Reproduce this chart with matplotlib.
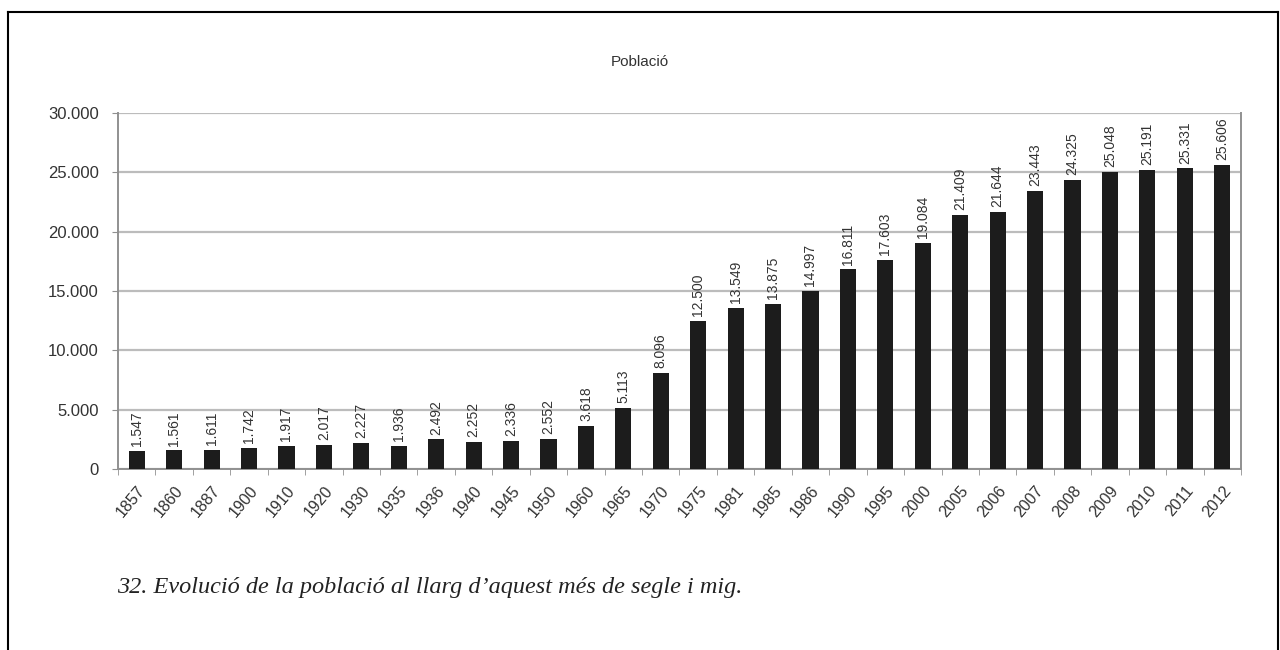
"""Població bar chart."""

import matplotlib

matplotlib.use("Agg")
import matplotlib.pyplot as plt
from matplotlib.lines import Line2D
from matplotlib.ticker import FuncFormatter, FixedLocator

years = [
    "1857", "1860", "1887", "1900", "1910", "1920", "1930", "1935", "1936", "1940",
    "1945", "1950", "1960", "1965", "1970", "1975", "1981", "1985", "1986", "1990",
    "1995", "2000", "2005", "2006", "2007", "2008", "2009", "2010", "2011", "2012",
]
population = [
    1547, 1561, 1611, 1742, 1917, 2017, 2227, 1936, 2492, 2252,
    2336, 2552, 3618, 5113, 8096, 12500, 13549, 13875, 14997, 16811,
    17603, 19084, 21409, 21644, 23443, 24325, 25048, 25191, 25331, 25606,
]
title = "Població"
caption = "32. Evolució de la població al llarg d\u2019aquest més de segle i mig."


def dotted(v):
    return f"{int(v):,}".replace(",", ".")


plt.rcParams["font.family"] = ["Liberation Sans", "DejaVu Sans"]

fig = plt.figure(figsize=(12.8, 6.5), dpi=100)
ax = fig.add_axes([0.0922, 0.2785, 0.8773, 0.5477])

x = list(range(len(years)))
bars = ax.bar(x, population, width=0.43, color="#1c1c1c", zorder=3)

ax.set_xlim(-0.5, len(years) - 0.5)
ax.set_ylim(0, 30000)
ax.set_yticks(range(0, 30001, 5000))
ax.yaxis.set_major_formatter(FuncFormatter(lambda v, p: dotted(v)))
ax.grid(axis="y", color="#bcbcbc", linewidth=1.6, zorder=0)

ax.set_xticks(x)
ax.set_xticklabels(years, rotation=50, ha="right", rotation_mode="anchor",
                   fontsize=11.5, color="#333333")
ax.tick_params(axis="x", length=0, pad=10)
ax.xaxis.set_minor_locator(FixedLocator([i - 0.5 for i in range(len(years) + 1)]))
ax.tick_params(axis="x", which="minor", length=4, color="#909090", direction="out")
ax.tick_params(axis="y", length=4, color="#909090", labelsize=12, labelcolor="#333333", pad=10)

for side in ["left", "right", "top", "bottom"]:
    ax.spines[side].set_color("#909090")
    ax.spines[side].set_linewidth(1.4)
ax.spines["top"].set_visible(False)

for b, v in zip(bars, population):
    ax.annotate(dotted(v), (b.get_x() + b.get_width() / 2, v), xytext=(0, 3.5),
                textcoords="offset points", rotation=90, ha="center", va="bottom",
                fontsize=10, color="#333333")

fig.text(0.5, 1 - 62 / 650, title, ha="center", va="center", fontsize=11, color="#333333")
fig.text(117 / 1280, 1 - 587 / 650, caption, ha="left", va="center", fontsize=17.5,
         style="italic", family="Liberation Serif", color="#222222")

# page frame around the figure (open at the bottom)
fx0, fx1, fy = 8 / 1280, 1278 / 1280, 1 - 12 / 650
for xs, ys in [([fx0, fx0], [0, fy]), ([fx0, fx1], [fy, fy]), ([fx1, fx1], [fy, 0])]:
    fig.add_artist(Line2D(xs, ys, color="black", linewidth=1.5, transform=fig.transFigure))

fig.savefig("out.png", dpi=100)
